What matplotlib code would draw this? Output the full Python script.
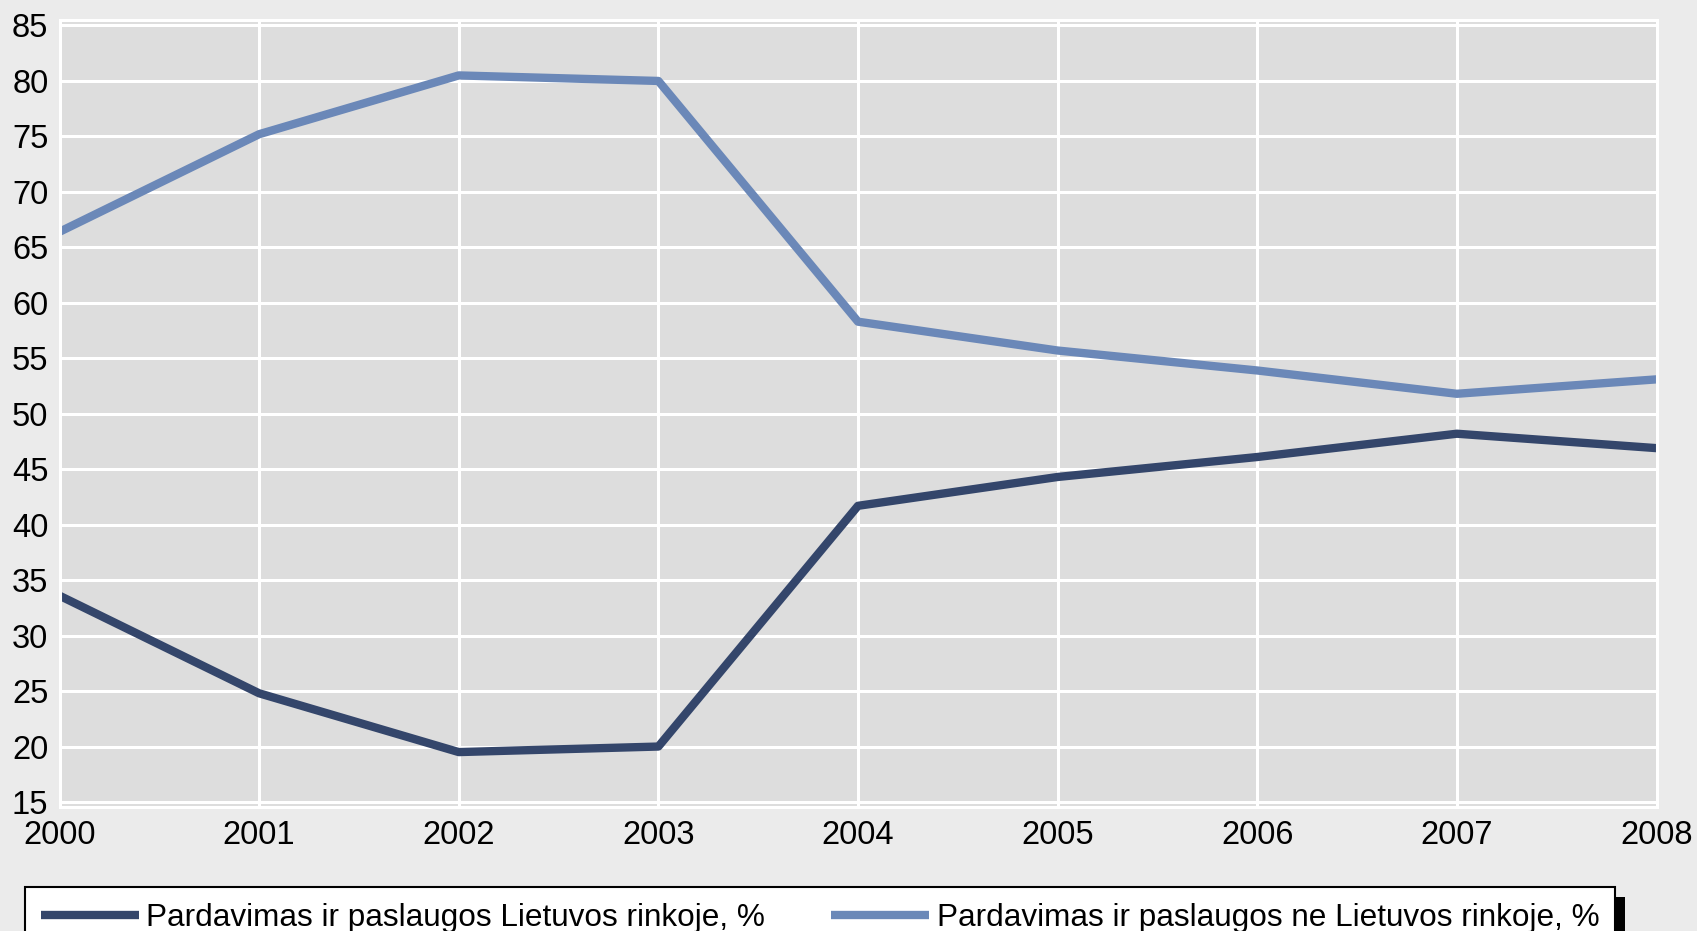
import matplotlib
matplotlib.use("Agg")
import matplotlib.pyplot as plt
from matplotlib.patches import Rectangle

years = [2000, 2001, 2002, 2003, 2004, 2005, 2006, 2007, 2008]
lt_market = [33.6, 24.8, 19.5, 20.0, 41.7, 44.3, 46.1, 48.2, 46.9]
non_lt_market = [66.4, 75.2, 80.5, 80.0, 58.3, 55.7, 53.9, 51.8, 53.1]
labels = ["Pardavimas ir paslaugos Lietuvos rinkoje, %",
          "Pardavimas ir paslaugos ne Lietuvos rinkoje, %"]
yticks = list(range(15, 90, 5))

W, H = 1697, 931
fig = plt.figure(figsize=(W / 100, H / 100), dpi=100, facecolor="#EBEBEB")
x0, x1 = 59.5, 1656.5
ytop, ybot = 19.5, 807
ax = fig.add_axes([x0 / W, 1 - ybot / H, (x1 - x0) / W, (ybot - ytop) / H])
ax.set_facecolor("#DDDDDD")

ax.plot(years, lt_market, color="#34466B", lw=6.0, solid_capstyle="butt", label=labels[0])
ax.plot(years, non_lt_market, color="#6B88B8", lw=6.0, solid_capstyle="butt", label=labels[1])

ax.set_xlim(2000, 2008)
ax.set_ylim(14.55, 85.54)
ax.set_xticks(years)
ax.set_yticks(yticks)
ax.grid(True, color="white", lw=2.2)
ax.set_axisbelow(True)
for s in ax.spines.values():
    s.set_color("white")
    s.set_linewidth(2.2)

font = "Liberation Sans"
ax.tick_params(length=0, labelsize=23.5, pad=8)
for t in ax.get_xticklabels() + ax.get_yticklabels():
    t.set_fontfamily(font)
ax.tick_params(axis="x", pad=9)

leg = fig.legend(loc="upper left", bbox_to_anchor=(25 / W, 1 - 887 / H), ncol=2,
                 frameon=True, fancybox=False, shadow=False, framealpha=1.0,
                 prop={"family": font, "size": 22.7},
                 handlelength=3.1, handletextpad=0.25, columnspacing=2.1,
                 borderpad=0.5, borderaxespad=0)
leg.get_frame().set_edgecolor("black")
leg.get_frame().set_linewidth(1.5)
leg.get_frame().set_facecolor("white")
leg.set_zorder(5)

fig.canvas.draw()
bb = leg.get_window_extent()
shadow = Rectangle((bb.x0 + 10, bb.y0 - 10), bb.width, bb.height,
                   transform=None, facecolor="black", edgecolor="none", zorder=4)
fig.add_artist(shadow)

fig.savefig("out.png", dpi=100, facecolor=fig.get_facecolor())
